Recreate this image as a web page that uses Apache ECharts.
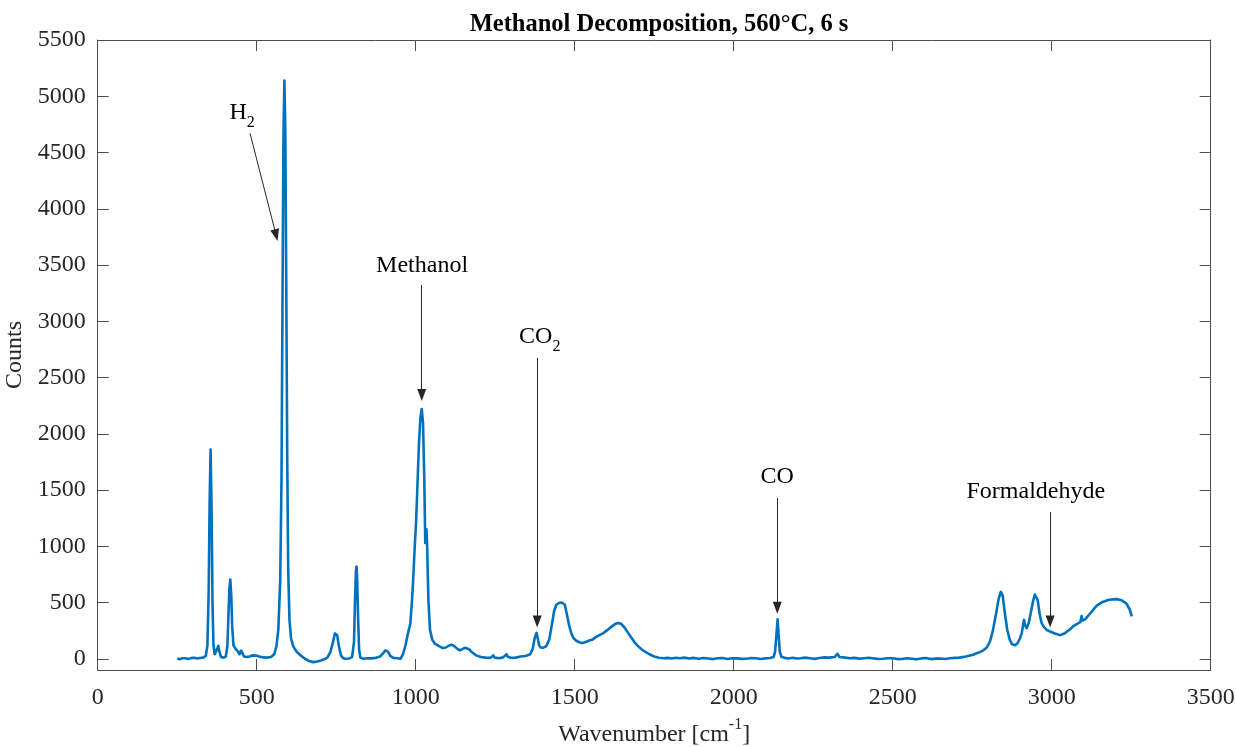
<!DOCTYPE html>
<html>
<head>
<meta charset="utf-8">
<title>Methanol Decomposition, 560°C, 6 s</title>
<script src="https://cdn.jsdelivr.net/npm/echarts@6/dist/echarts.min.js"></script>
<style>
  html, body { margin: 0; padding: 0; background: #fff; }
  #chart { width: 1236px; height: 747px; }
</style>
</head>
<body>
<div id="chart"></div>
<script>
// Raman spectrum: wavenumber (cm^-1) and detector counts
const wavenumber = [
  250, 258, 266, 275, 283, 290, 298, 305, 313, 320, 326, 332, 340, 345, 349, 352, 355, 358, 361, 364,
  368, 372, 376, 379, 383, 388, 395, 403, 408, 411, 414, 417, 420, 423, 427, 432, 437, 442, 446, 451,
  455, 460, 468, 478, 486, 491, 498, 508, 520, 532, 545, 555, 562, 568, 574, 578, 581, 584, 587, 590,
  593, 596, 599, 603, 608, 615, 625, 638, 652, 665, 678, 690, 702, 712, 722, 732, 740, 746, 749, 753,
  758, 765, 772, 780, 790, 800, 806, 809, 812, 814, 816, 819, 822, 826, 835, 848, 860, 875, 888, 898,
  905, 909, 914, 920, 930, 942, 952, 960, 968, 976, 983, 988, 992, 997, 1001, 1005, 1010, 1015, 1019, 1023,
  1027, 1030, 1032, 1034, 1036, 1040, 1045, 1052, 1060, 1066, 1075, 1085, 1095, 1105, 1113, 1120, 1130, 1139, 1148, 1155,
  1160, 1168, 1178, 1190, 1205, 1220, 1235, 1244, 1248, 1262, 1275, 1286, 1290, 1300, 1315, 1330, 1345, 1360, 1368, 1374,
  1380, 1384, 1388, 1393, 1400, 1410, 1420, 1428, 1435, 1442, 1450, 1459, 1465, 1469, 1475, 1483, 1490, 1496, 1505, 1513,
  1522, 1530, 1540, 1548, 1553, 1556, 1565, 1578, 1590, 1605, 1618, 1628, 1637, 1646, 1656, 1668, 1680, 1690, 1700, 1710,
  1720, 1735, 1750, 1765, 1780, 1792, 1805, 1818, 1830, 1845, 1860, 1872, 1890, 1905, 1920, 1935, 1950, 1965, 1980, 1995,
  2010, 2025, 2040, 2055, 2070, 2085, 2100, 2115, 2125, 2130, 2134, 2138, 2141, 2145, 2150, 2160, 2172, 2185, 2198, 2210,
  2225, 2240, 2255, 2270, 2285, 2300, 2318, 2326, 2333, 2350, 2365, 2380, 2395, 2410, 2425, 2440, 2455, 2470, 2485, 2500,
  2515, 2530, 2545, 2560, 2575, 2590, 2605, 2620, 2635, 2650, 2665, 2680, 2695, 2710, 2730, 2753, 2770, 2785, 2796, 2806,
  2815, 2825, 2833, 2840, 2846, 2852, 2860, 2868, 2875, 2879, 2885, 2893, 2900, 2906, 2910, 2913, 2916, 2921, 2928, 2935,
  2942, 2947, 2951, 2956, 2962, 2968, 2974, 2985, 2995, 3010, 3026, 3040, 3055, 3067, 3080, 3090, 3094, 3097, 3105, 3120,
  3141, 3160, 3180, 3204, 3220, 3235, 3245, 3252
];
const counts = [
  2, -4, 4, 5, -1, 3, 9, 8, 3, 6, 12, 10, 25, 120, 600, 1400, 1860, 1350, 500, 120,
  40, 30, 90, 115, 60, 15, 10, 20, 120, 380, 620, 705, 560, 280, 120, 95, 100, 60, 40, 72,
  50, 20, 15, 20, 30, 35, 28, 20, 12, 10, 15, 40, 110, 260, 700, 1600, 3100, 4600, 5140, 4700,
  3300, 1800, 800, 350, 180, 110, 65, 30, 0, -20, -30, -25, -15, -5, 10, 60, 150, 225, 242, 210,
  120, 30, 5, 0, 2, 15, 150, 500, 780, 820, 700, 350, 80, 10, 0, 5, 3, 8, 20, 50,
  75, 80, 60, 25, 8, 5, 0, 40, 120, 230, 310, 500, 700, 1000, 1200, 1500, 1900, 2150, 2220, 2100,
  1600, 1030, 1100, 1150, 1000, 520, 257, 170, 135, 124, 110, 95, 100, 118, 124, 115, 90, 74, 88, 98,
  100, 85, 55, 30, 15, 10, 8, 30, 10, 5, 12, 40, 15, 8, 10, 20, 25, 40, 90, 180,
  230, 180, 120, 100, 98, 110, 170, 300, 420, 480, 495, 500, 495, 480, 400, 290, 220, 184, 160, 148,
  140, 145, 155, 165, 180, 170, 190, 210, 228, 260, 290, 310, 317, 310, 280, 230, 180, 140, 110, 85,
  65, 40, 20, 9, 5, 8, 2, 9, 5, 10, 3, 8, 0, 6, 2, -3, 4, 7, -2, 5,
  3, -1, 0, 6, 5, -2, 3, 6, 15, 60, 200, 350, 220, 60, 18, 8, 3, 9, 2, 4,
  10, 5, -1, 6, 12, 10, 15, 44, 15, 10, 4, 8, 1, 5, 9, 3, -2, 0, 5, 4,
  -3, -2, 4, 0, -4, 3, 6, -3, 1, 2, -2, 5, 8, 10, 20, 35, 55, 75, 100, 154,
  250, 400, 530, 595, 560, 420, 260, 170, 130, 118, 120, 140, 180, 230, 300, 346, 300, 272, 320, 420,
  520, 570, 577, 520, 400, 320, 287, 255, 242, 225, 210, 225, 255, 287, 310, 325, 380, 340, 350, 400,
  470, 505, 525, 530, 520, 490, 440, 376
];

// Tick values
const xTicks = [0, 500, 1000, 1500, 2000, 2500, 3000, 3500];
const yTicks = [0, 500, 1000, 1500, 2000, 2500, 3000, 3500, 4000, 4500, 5000, 5500];

// Peak annotations: label, label position, arrow start, arrow tip
const annoLabels = ['{m|H}{s|2}', 'Methanol', '{m|CO}{s|2}', 'CO', 'Formaldehyde'];
const annoLabelPos = [[454, 4830], [1020, 3490], [1390, 2835], [2137, 1616], [2950, 1483]];
const annoStart = [[479, 4671], [1019, 3322], [1382, 2673], [2137, 1430], [2995, 1305]];
const annoTip = [[561, 3766], [1019, 2345], [1382, 331], [2137, 453], [2995, 331]];

const serif = '"Liberation Serif", "Times New Roman", serif';
const axisColor = '#4d4d4d';
const textColor = '#262626';

const lineData = wavenumber.map((w, i) => [w, counts[i]]);

const arrowLines = annoStart.map((s, i) => [
  { coord: s },
  { coord: annoTip[i] }
]);

const labelPoints = annoLabels.map((t, i) => ({
  coord: annoLabelPos[i],
  symbol: 'circle',
  symbolSize: 0,
  label: {
    show: true,
    position: 'inside',
    formatter: t,
    fontFamily: serif,
    fontSize: 24,
    color: '#000',
    rich: {
      m: { fontFamily: serif, fontSize: 24, color: '#000', verticalAlign: 'top', padding: [0, 0, 6, 0] },
      s: { fontFamily: serif, fontSize: 16, color: '#000', verticalAlign: 'bottom' }
    }
  }
}));

const plainNumber = v => String(v);

const chart = echarts.init(document.getElementById('chart'), null, { renderer: 'canvas' });

const boxLine = { show: true, onZero: false, lineStyle: { color: axisColor, width: 1 } };
const inTick = { show: true, inside: true, length: 11, lineStyle: { color: axisColor } };

chart.setOption({
  animation: false,
  backgroundColor: '#ffffff',
  title: {
    text: 'Methanol Decomposition, 560°C, 6 s',
    left: 654,
    textAlign: 'center',
    top: 7,
    textStyle: { fontFamily: serif, fontSize: 24.5, fontWeight: 'bold', color: '#000' }
  },
  grid: { left: 97.7, right: 25.3, top: 40, bottom: 77, containLabel: false, outerBoundsMode: 'none' },
  xAxis: [
    {
      type: 'value',
      min: 0,
      max: 3500,
      interval: 500,
      position: 'bottom',
      name: '{a|Wavenumber [cm}{b|-1}{a|]}',
      nameLocation: 'middle',
      nameGap: 47,
      nameTextStyle: {
        rich: {
          a: { fontFamily: serif, fontSize: 24, color: textColor, verticalAlign: 'bottom', padding: [6, 0, 0, 0] },
          b: { fontFamily: serif, fontSize: 16, color: textColor, verticalAlign: 'top' }
        }
      },
      axisLine: boxLine,
      axisTick: Object.assign({ customValues: xTicks }, inTick),
      axisLabel: {
        show: true, margin: 16, fontFamily: serif, fontSize: 24, color: textColor,
        customValues: xTicks, formatter: plainNumber
      },
      splitLine: { show: false }
    },
    {
      type: 'value',
      min: 0,
      max: 3500,
      interval: 500,
      position: 'top',
      axisLine: boxLine,
      axisTick: Object.assign({ customValues: xTicks }, inTick),
      axisLabel: { show: false },
      splitLine: { show: false }
    }
  ],
  yAxis: [
    {
      type: 'value',
      min: -100,
      max: 5500,
      position: 'left',
      name: 'Counts',
      nameLocation: 'middle',
      nameRotate: 90,
      nameGap: 65,
      nameTextStyle: { fontFamily: serif, fontSize: 24, color: textColor },
      axisLine: boxLine,
      axisTick: Object.assign({ customValues: yTicks }, inTick),
      axisLabel: {
        show: true, margin: 12, fontFamily: serif, fontSize: 24, color: textColor,
        customValues: yTicks, formatter: plainNumber
      },
      splitLine: { show: false }
    },
    {
      type: 'value',
      min: -100,
      max: 5500,
      position: 'right',
      axisLine: boxLine,
      axisTick: Object.assign({ customValues: yTicks }, inTick),
      axisLabel: { show: false, customValues: yTicks },
      splitLine: { show: false }
    }
  ],
  series: [
    {
      type: 'line',
      xAxisIndex: 0,
      yAxisIndex: 0,
      data: lineData,
      showSymbol: false,
      symbol: 'none',
      smooth: false,
      lineStyle: { color: '#0072BD', width: 2.6, join: 'round' },
      silent: true,
      markLine: {
        silent: true,
        symbol: ['none', 'triangle'],
        symbolSize: [9, 12],
        label: { show: false },
        lineStyle: { color: '#262626', width: 1, type: 'solid' },
        emphasis: { disabled: true },
        data: arrowLines
      },
      markPoint: {
        silent: true,
        data: labelPoints
      }
    }
  ]
});
</script>
</body>
</html>
